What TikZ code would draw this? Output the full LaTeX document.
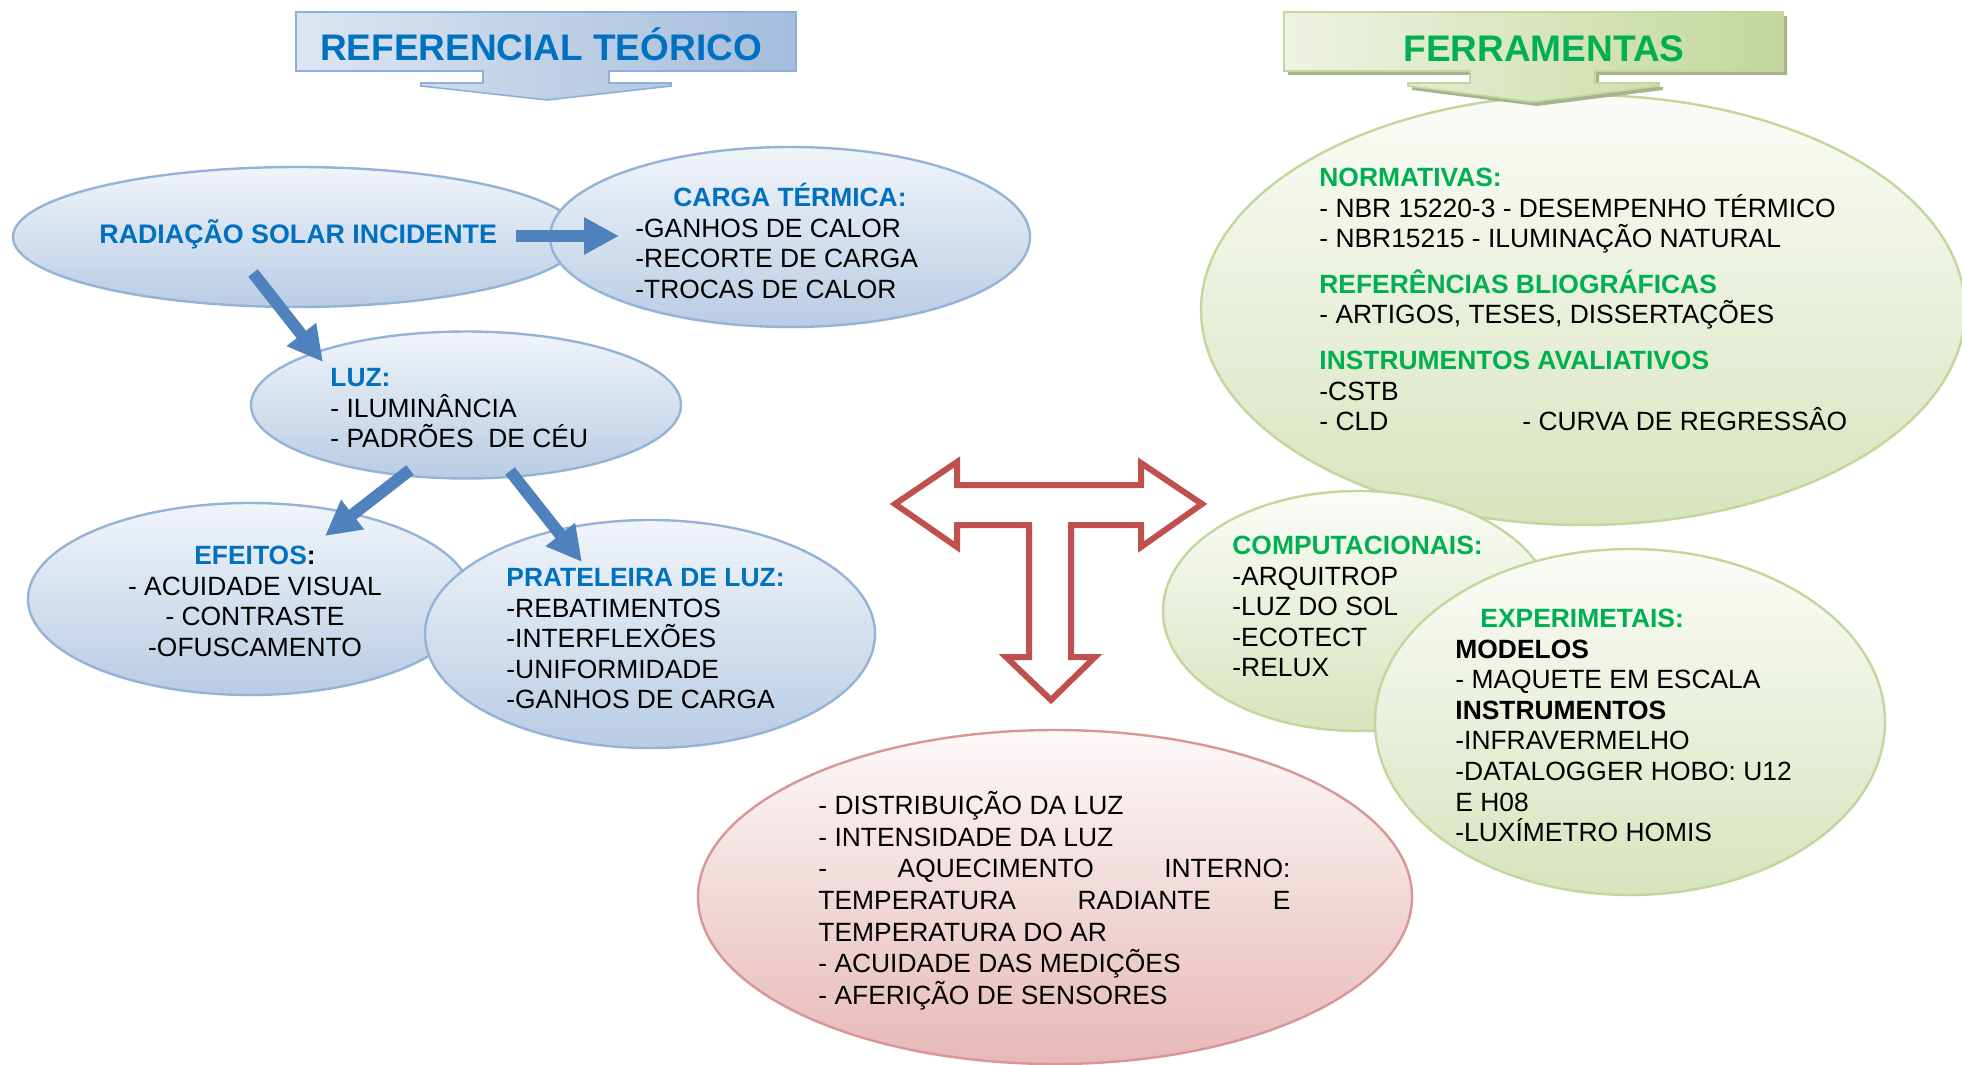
\documentclass[tikz,border=0pt]{standalone}
\usepackage{fontspec}
\setmainfont{Liberation Sans}
\usetikzlibrary{arrows.meta,shapes.geometric}
\definecolor{tblue}{HTML}{0070C0}
\definecolor{tgreen}{HTML}{00B050}
\definecolor{abl}{HTML}{4F81BD}
\definecolor{eblue}{HTML}{95B3D7}
\definecolor{eblueTop}{HTML}{F1F5FA}
\definecolor{eblueBot}{HTML}{B8CCE4}
\definecolor{egreen}{HTML}{C3D69B}
\definecolor{egreenTop}{HTML}{FBFCF8}
\definecolor{egreenBot}{HTML}{D7E4BD}
\definecolor{epink}{HTML}{D99694}
\definecolor{epinkTop}{HTML}{FDF9F9}
\definecolor{epinkBot}{HTML}{E6B9B8}
\definecolor{tarrow}{HTML}{C0504D}
\definecolor{t1left}{HTML}{DCE6F2}
\definecolor{t1right}{HTML}{A4BDDB}
\definecolor{t1line}{HTML}{8EB0D8}
\definecolor{t2left}{HTML}{EEF3E2}
\definecolor{t2right}{HTML}{C4D79B}
\definecolor{t2shadow}{HTML}{A6B38E}
\newcommand{\fl}{\rule{0pt}{13pt}}
\begin{document}
\begin{tikzpicture}[x=0.5pt,y=-0.5pt,
  bell/.style={ellipse, draw=eblue, line width=1.2pt, top color=eblueTop, bottom color=eblueBot, inner sep=0pt},
  gell/.style={ellipse, draw=egreen, line width=1.2pt, top color=egreenTop, bottom color=egreenBot, inner sep=0pt},
  pell/.style={ellipse, draw=epink, line width=1.2pt, top color=epinkTop, bottom color=epinkBot, inner sep=0pt},
  txt/.style={inner sep=0pt, anchor=north west, align=left, font=\fontsize{13.2pt}{15.3pt}\selectfont},
  barrow/.style={draw=abl, line width=6pt, -{Triangle[length=17.5pt,width=17.5pt]}},
  ttl/.style={inner sep=0pt, anchor=base, font=\fontsize{18.5pt}{20pt}\selectfont\bfseries},
]
\useasboundingbox[fill=white] (0,0) rectangle (1962,1064);

% ellipses
\node[bell, minimum width=284pt, minimum height=70pt] (radE) at (297,237) {};
\node[bell, minimum width=240pt, minimum height=90pt] (cargaE) at (790,237) {};
\node[bell, minimum width=215pt, minimum height=73.5pt] (luzE) at (466,405) {};
\node[bell, minimum width=222pt, minimum height=96pt] (efE) at (250,599) {};
\node[bell, minimum width=225pt, minimum height=114pt] (pratE) at (650,634) {};
\node[gell, minimum width=382pt, minimum height=215pt] (normE) at (1583,310) {};
\node[gell, minimum width=195pt, minimum height=120pt] (compE) at (1358,611) {};
\node[gell, minimum width=255pt, minimum height=173pt] (expE) at (1630,722) {};
\node[pell, minimum width=357pt, minimum height=167pt] (pinkE) at (1055,897) {};

% title callouts
\path[draw=t1line, line width=0.8pt, left color=t1left, right color=t1right]
  (296,12) -- (796,12) -- (796,71) -- (609,71) -- (609,83) -- (671,83) -- (671,86)
  -- (547,100) -- (421,86) -- (421,83) -- (483,83) -- (483,71) -- (296,71) -- cycle;
\fill[t2shadow]
  (1288,16) -- (1787,16) -- (1787,75) -- (1599,75) -- (1599,87) -- (1663,87) -- (1663,90)
  -- (1537,106) -- (1412,90) -- (1412,87) -- (1474,87) -- (1474,75) -- (1288,75) -- cycle;
\path[draw=egreen, line width=0.8pt, left color=t2left, right color=t2right]
  (1284,12) -- (1783,12) -- (1783,71) -- (1595,71) -- (1595,83) -- (1659,83) -- (1659,86)
  -- (1533,102) -- (1408,86) -- (1408,83) -- (1470,83) -- (1470,71) -- (1284,71) -- cycle;
\node[ttl, text=tblue] (t1) at (541,61) {REFERENCIAL TEÓRICO};
\node[ttl, text=tgreen] (t2) at (1544,62) {FERRAMENTAS};

% red T arrow
\draw[tarrow, line width=3pt, fill=white, line join=miter]
  (895,504) -- (957,462) -- (957,485) -- (1141,485) -- (1141,463) -- (1202,504)
  -- (1141,547) -- (1141,525) -- (1071,525) -- (1071,657) -- (1095,657) -- (1051,700)
  -- (1006,657) -- (1029,657) -- (1029,525) -- (957,525) -- (957,547) -- cycle;

% texts
\node[txt, anchor=base west, font=\fontsize{13.4pt}{15.3pt}\selectfont\bfseries, text=tblue] (radT) at (99,243) {RADIAÇÃO SOLAR INCIDENTE};
\node[txt] (cargaT) at (635,180) {\fl\hspace*{19pt}\textcolor{tblue}{\bfseries CARGA TÉRMICA:}\\-GANHOS DE CALOR\\-RECORTE DE CARGA\\-TROCAS DE CALOR};
\node[txt] (luzT) at (330,360) {\fl\textcolor{tblue}{\bfseries LUZ:}\\- ILUMINÂNCIA\\- PADRÕES\ \ DE CÉU};
\node[txt, anchor=north, align=center] (efT) at (255,538) {\fl\textcolor{tblue}{\bfseries EFEITOS}\textbf{:}\\- ACUIDADE VISUAL\\- CONTRASTE\\-OFUSCAMENTO};
\node[txt] (pratT) at (506,560) {\fl\textcolor{tblue}{\bfseries PRATELEIRA DE LUZ:}\\-REBATIMENTOS\\-INTERFLEXÕES\\-UNIFORMIDADE\\-GANHOS DE CARGA};
\node[txt] (normT) at (1319,160) {\fl\textcolor{tgreen}{\bfseries NORMATIVAS:}\\- NBR 15220-3 - DESEMPENHO TÉRMICO\\- NBR15215 - ILUMINAÇÃO NATURAL\\[7.5pt]\textcolor{tgreen}{\bfseries REFERÊNCIAS BLIOGRÁFICAS}\\- ARTIGOS, TESES, DISSERTAÇÕES\\[7.5pt]\textcolor{tgreen}{\bfseries INSTRUMENTOS AVALIATIVOS}\\-CSTB\\\makebox[101.5pt][l]{- CLD}- CURVA DE REGRESSÂO};
\node[txt] (compT) at (1232,528) {\fl\textcolor{tgreen}{\bfseries COMPUTACIONAIS:}\\-ARQUITROP\\-LUZ DO SOL\\-ECOTECT\\-RELUX};
\node[txt] (expT) at (1455,601) {\fl\hspace*{12.5pt}\textcolor{tgreen}{\bfseries EXPERIMETAIS:}\\\textbf{MODELOS}\\- MAQUETE EM ESCALA\\\textbf{INSTRUMENTOS}\\-INFRAVERMELHO\\-DATALOGGER HOBO: U12\\E H08\\-LUXÍMETRO HOMIS};
\node[txt, font=\fontsize{13.2pt}{15.85pt}\selectfont] (pinkT) at (818,788) {\fl- DISTRIBUIÇÃO DA LUZ\\- INTENSIDADE DA LUZ\\\hbox to 236pt{-\hfill AQUECIMENTO\hfill INTERNO:}\\\hbox to 236pt{TEMPERATURA\hfill RADIANTE\hfill E}\\TEMPERATURA DO AR\\- ACUIDADE DAS MEDIÇÕES\\- AFERIÇÃO DE SENSORES};

% blue arrows
\coordinate (a1s) at (516,236);
\coordinate (a1e) at (619,236);
\coordinate (a2s) at (253,273);
\coordinate (a2e) at (323,362);
\coordinate (a3s) at (410,470);
\coordinate (a3e) at (325,536);
\coordinate (a4s) at (510,471);
\coordinate (a4e) at (582,562);
\draw[barrow] (a1s) -- (a1e);
\draw[barrow] (a2s) -- (a2e);
\draw[barrow] (a3s) -- (a3e);
\draw[barrow] (a4s) -- (a4e);
\end{tikzpicture}
\end{document}
